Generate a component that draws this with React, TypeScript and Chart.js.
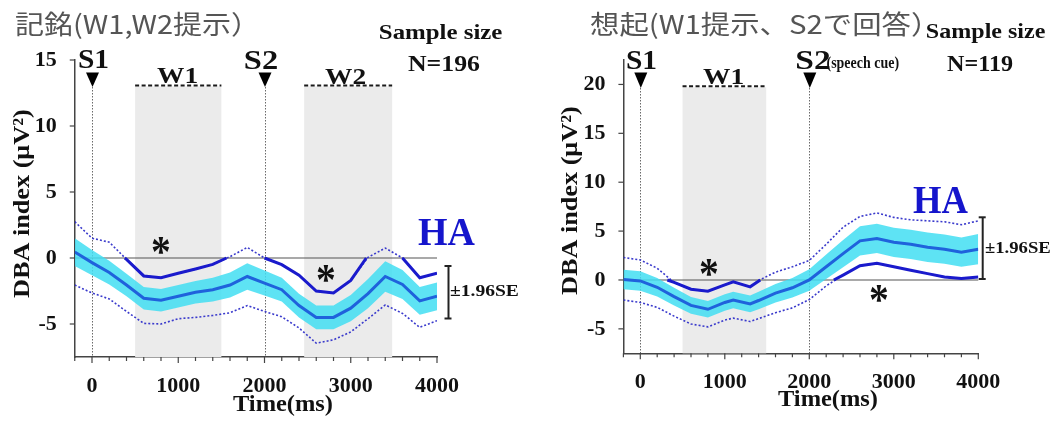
import React, { useEffect, useRef } from "react";
import { Chart, registerables } from "chart.js";
Chart.register(...registerables);

const SERIF = '"Liberation Serif", "Times New Roman", serif';
const CJK = '"Noto Sans CJK JP", "Noto Sans", sans-serif';

// ---------- Panel 1: 記銘 (encoding) ----------
const memTime = [-200, 0, 200, 400, 600, 800, 1000, 1200, 1400, 1600, 1800, 2000, 2200, 2400, 2600, 2800, 3000, 3200, 3400, 3600, 3800, 4000];
const memMean = [0.45, -0.35, -1.1, -2.05, -3.05, -3.2, -2.9, -2.6, -2.4, -2.05, -1.4, -1.9, -2.4, -3.6, -4.5, -4.5, -3.8, -2.7, -1.4, -2.0, -3.25, -2.9];
const memUpper = [2.75, 1.5, 1.2, -0.1, -1.36, -1.5, -1.16, -0.83, -0.48, 0.1, 0.8, 0.0, -0.5, -1.3, -2.5, -2.65, -1.7, 0.05, 0.75, 0.0, -1.5, -1.15];
const memLower = [-2.05, -2.65, -3.1, -4.05, -4.95, -5.0, -4.6, -4.5, -4.35, -4.15, -3.6, -4.05, -4.45, -5.3, -6.45, -6.2, -5.6, -4.6, -3.55, -4.2, -5.25, -4.75];
const memSE = [1.05, 0.95, 0.9, 0.85, 0.85, 0.85, 0.85, 0.85, 0.9, 0.95, 1.0, 0.95, 0.9, 0.9, 0.9, 0.9, 1.0, 1.1, 1.15, 1.1, 1.05, 1.05];
const memSigTime = [380, 400, 600, 800, 1000, 1200, 1400, 1560, 1800, 2000, 2200, 2400, 2600, 2800, 3000, 3180, 3400, 3600, 3800, 4000];
const memSigValue = [0, -0.1, -1.36, -1.5, -1.16, -0.83, -0.48, 0, null, 0, -0.5, -1.3, -2.5, -2.65, -1.7, 0, null, 0, -1.5, -1.15];
const memWindows = [[500, 1500], [2460, 3480]];
const memStimuli = [0, 2000];
const memYTicks = [-5, 0, 5, 10, 15];

// ---------- Panel 2: 想起 (recall) ----------
const recTime = [-200, 0, 200, 400, 600, 800, 1000, 1100, 1300, 1400, 1600, 1800, 2000, 2200, 2400, 2600, 2800, 3000, 3200, 3400, 3600, 3800, 4000];
const recMean = [0.05, -0.1, -0.75, -1.7, -2.6, -3.0, -2.3, -2.05, -2.45, -2.1, -1.35, -0.8, 0.0, 1.35, 2.7, 4.0, 4.25, 3.85, 3.65, 3.35, 3.15, 2.85, 3.15];
const recUpper = [2.3, 2.05, 1.2, -0.25, -0.95, -1.15, -0.5, -0.2, -0.7, -0.05, 0.8, 1.35, 2.0, 3.65, 5.4, 6.5, 6.85, 6.4, 6.15, 6.05, 5.95, 5.65, 6.05];
const recLower = [-2.05, -2.3, -2.8, -3.7, -4.5, -4.8, -4.1, -3.9, -4.25, -3.95, -3.35, -2.85, -2.0, -0.6, 0.5, 1.45, 1.7, 1.35, 1.0, 0.65, 0.3, 0.15, 0.3];
const recSE = [1.0, 1.0, 0.95, 0.9, 0.85, 0.85, 0.85, 0.85, 0.85, 0.9, 0.95, 1.0, 1.1, 1.25, 1.4, 1.5, 1.5, 1.5, 1.5, 1.5, 1.5, 1.5, 1.55];
const recSigTime = [320, 400, 600, 800, 1000, 1100, 1300, 1420, 1800, 2290, 2400, 2600, 2800, 3000, 3200, 3400, 3600, 3800, 4000];
const recSigValue = [0, -0.25, -0.95, -1.15, -0.5, -0.2, -0.7, 0, null, 0, 0.5, 1.45, 1.7, 1.35, 1.0, 0.65, 0.3, 0.15, 0.3];
const recWindows = [[500, 1490]];
const recStimuli = [0, 2000];
const recYTicks = [-5, 0, 5, 10, 15, 20];

const xTickValues = [-200, 0, 200, 400, 600, 800, 1000, 1200, 1400, 1600, 1800, 2000, 2200, 2400, 2600, 2800, 3000, 3200, 3400, 3600, 3800, 4000];

const BAND = "rgba(66, 222, 242, 0.85)";
const MEAN = "#1f62dc";
const SIG = "#1a1acc";
const DOT = "#3a3acc";
const AXIS = "#444";
const HA_BLUE = "#1515cc";

const B = (s: number) => `bold ${s}px ${SERIF}`;

const panels = [
  {
    ox: 0,
    time: memTime, mean: memMean, upper: memUpper, lower: memLower, se: memSE,
    sigTime: memSigTime, sigValue: memSigValue,
    windows: memWindows, windowTop: 13, stimuli: memStimuli, yTicks: memYTicks,
    yMin: -7.5, yMax: 15,
    area: { left: 74.75, right: 437, top: 60, bottom: 357 },
    tri: { top: 72.5, bottom: 87 },
    bracket: { x: 448.5, y0: 266, y1: 318.5 },
    yTitle: { cx: 23, cy: 204, len: 188 },
    texts: [
      { s: "記銘(W1,W2提示）", cx: 127.5, cy: 25, font: `400 26px ${CJK}`, color: "#555", w: 225 },
      { s: "Sample size", cx: 441, cy: 34, font: B(21), w: 122 },
      { s: "N=196", cx: 444, cy: 63.5, font: B(24), w: 72 },
      { s: "S1", cx: 93.5, cy: 58.5, font: B(28), w: 29 },
      { s: "S2", cx: 261, cy: 60, font: B(28), w: 32 },
      { s: "W1", cx: 177, cy: 75.5, font: B(24), w: 40 },
      { s: "W2", cx: 345, cy: 76, font: B(24), w: 40 },
      { s: "HA", cx: 446.5, cy: 231.5, font: B(40), color: HA_BLUE, w: 57 },
      { s: "±1.96SE", cx: 484, cy: 290, font: B(16), w: 68 },
      { s: "*", cx: 161, cy: 245, font: B(44), w: 18 },
      { s: "*", cx: 326, cy: 273, font: B(44), w: 18 },
      { s: "Time(ms)", cx: 282.5, cy: 405, font: B(24), w: 99 },
    ],
  },
  {
    ox: 530,
    time: recTime, mean: recMean, upper: recUpper, lower: recLower, se: recSE,
    sigTime: recSigTime, sigValue: recSigValue,
    windows: recWindows, windowTop: 19.7, stimuli: recStimuli, yTicks: recYTicks,
    yMin: -7.5, yMax: 22.5,
    area: { left: 623.4, right: 978.3, top: 60, bottom: 353.3 },
    tri: { top: 72.5, bottom: 88 },
    bracket: { x: 982.7, y0: 217.3, y1: 279 },
    yTitle: { cx: 571, cy: 201, len: 188 },
    texts: [
      { s: "想起(W1提示、S2で回答）", cx: 755, cy: 25, font: `400 26px ${CJK}`, color: "#555", w: 330 },
      { s: "Sample size", cx: 986, cy: 33, font: B(21), w: 118 },
      { s: "N=119", cx: 980, cy: 63.5, font: B(24), w: 66 },
      { s: "S1", cx: 641.5, cy: 60, font: B(28), w: 29 },
      { s: "W1", cx: 723, cy: 76, font: B(24), w: 40 },
      { s: "S2", cx: 813, cy: 60, font: B(28), w: 33 },
      { s: "(speech cue)", cx: 862.5, cy: 63.5, font: B(17), w: 72 },
      { s: "HA", cx: 940.5, cy: 199.5, font: B(40), color: HA_BLUE, w: 55 },
      { s: "±1.96SE", cx: 1017.5, cy: 247.7, font: B(16), w: 65 },
      { s: "*", cx: 709, cy: 267, font: B(44), w: 18 },
      { s: "*", cx: 879, cy: 293, font: B(44), w: 18 },
      { s: "Time(ms)", cx: 827.5, cy: 400, font: B(24), w: 99 },
    ],
  },
];

function drawText(ctx: CanvasRenderingContext2D, s: string, cx: number, cy: number, font: string, color: string, w?: number) {
  ctx.save();
  ctx.font = font;
  ctx.fillStyle = color;
  ctx.textAlign = "left";
  ctx.textBaseline = "alphabetic";
  const m = ctx.measureText(s);
  const bw = m.actualBoundingBoxLeft + m.actualBoundingBoxRight;
  const sx = w ? w / bw : 1;
  ctx.translate(cx, cy);
  ctx.scale(sx, 1);
  ctx.fillText(s, m.actualBoundingBoxLeft - bw / 2, (m.actualBoundingBoxAscent - m.actualBoundingBoxDescent) / 2);
  ctx.restore();
}

function makePlugin(p: any) {
  const line = (ctx: CanvasRenderingContext2D, x0: number, y0: number, x1: number, y1: number) => {
    ctx.beginPath();
    ctx.moveTo(x0, y0);
    ctx.lineTo(x1, y1);
    ctx.stroke();
  };
  return {
    id: "deco" + p.ox,
    beforeDatasetsDraw(chart: any) {
      const { ctx, chartArea: a, scales } = chart;
      const x = scales.x, y = scales.y;
      ctx.save();
      ctx.fillStyle = "#ebebeb";
      p.windows.forEach(([s, e]: number[]) => {
        const x0 = x.getPixelForValue(s), x1 = x.getPixelForValue(e);
        const y0 = y.getPixelForValue(p.windowTop);
        ctx.fillRect(x0, y0, x1 - x0, a.bottom - y0);
      });
      ctx.strokeStyle = "#6a6a6a";
      ctx.lineWidth = 1;
      ctx.setLineDash([1.5, 1.5]);
      p.stimuli.forEach((t: number) => {
        const px = Math.round(x.getPixelForValue(t)) + 0.5;
        line(ctx, px, p.tri.bottom, px, a.bottom);
      });
      ctx.setLineDash([]);
      ctx.strokeStyle = "#555";
      ctx.lineWidth = 1.2;
      const zy = y.getPixelForValue(0);
      line(ctx, a.left, zy, a.right, zy);
      ctx.restore();
    },
    afterDraw(chart: any) {
      const { ctx, chartArea: a, scales } = chart;
      const x = scales.x, y = scales.y;
      const X = (v: number) => v - p.ox;
      ctx.save();
      // tick marks
      ctx.strokeStyle = AXIS;
      ctx.lineWidth = 1.2;
      x.ticks.forEach((t: any) => {
        const px = x.getPixelForValue(t.value);
        const len = t.value % 1000 === 0 ? 6 : 4;
        line(ctx, px, a.bottom, px, a.bottom + len);
      });
      y.ticks.forEach((t: any) => {
        const py = y.getPixelForValue(t.value);
        line(ctx, a.left - 5, py, a.left, py);
      });
      // window dashed tops
      ctx.strokeStyle = "#1a1a1a";
      ctx.lineWidth = 2;
      ctx.setLineDash([4, 2.5]);
      p.windows.forEach(([s, e]: number[]) => {
        const yy = y.getPixelForValue(p.windowTop) - 1;
        line(ctx, x.getPixelForValue(s), yy, x.getPixelForValue(e), yy);
      });
      ctx.setLineDash([]);
      // stimulus triangles
      ctx.fillStyle = "#000";
      p.stimuli.forEach((t: number) => {
        const px = x.getPixelForValue(t) + 0.5;
        ctx.beginPath();
        ctx.moveTo(px - 6.5, p.tri.top);
        ctx.lineTo(px + 6.5, p.tri.top);
        ctx.lineTo(px, p.tri.bottom);
        ctx.closePath();
        ctx.fill();
      });
      // ±1.96SE bracket
      ctx.strokeStyle = "#222";
      ctx.lineWidth = 2;
      const bx = X(p.bracket.x);
      line(ctx, bx, p.bracket.y0, bx, p.bracket.y1);
      line(ctx, bx - 4, p.bracket.y0, bx + 3, p.bracket.y0);
      line(ctx, bx - 4, p.bracket.y1, bx + 3, p.bracket.y1);
      // texts
      p.texts.forEach((tx: any) => drawText(ctx, tx.s, X(tx.cx), tx.cy, tx.font, tx.color || "#111", tx.w));
      // y-axis title
      ctx.save();
      ctx.translate(X(p.yTitle.cx), p.yTitle.cy);
      ctx.rotate(-Math.PI / 2);
      drawText(ctx, "DBA index (μV²)", 0, 0, B(23), "#111", p.yTitle.len);
      ctx.restore();
      ctx.restore();
    },
  };
}

function makeConfig(p: any): any {
  const pts = (xs: number[], ys: (number | null)[]) => xs.map((v, i) => ({ x: v, y: ys[i] }));
  const bandLo = p.mean.map((m: number, i: number) => m - p.se[i]);
  const bandHi = p.mean.map((m: number, i: number) => m + p.se[i]);
  const tickFont = { family: SERIF, weight: "bold", size: 22 };
  return {
    type: "line",
    data: {
      datasets: [
        { data: pts(p.time, bandLo), borderColor: "rgba(0,0,0,0)", borderWidth: 0, pointRadius: 0, fill: false, order: 6 },
        { data: pts(p.time, bandHi), borderColor: "rgba(0,0,0,0)", borderWidth: 0, pointRadius: 0, fill: "-1", backgroundColor: BAND, order: 5 },
        { data: pts(p.time, p.upper), borderColor: DOT, borderWidth: 1.6, borderDash: [2, 2], pointRadius: 0, fill: false, order: 4 },
        { data: pts(p.time, p.lower), borderColor: DOT, borderWidth: 1.6, borderDash: [2, 2], pointRadius: 0, fill: false, order: 4 },
        { data: pts(p.time, p.mean), borderColor: MEAN, borderWidth: 3, pointRadius: 0, fill: false, order: 2 },
        { data: pts(p.sigTime, p.sigValue), borderColor: SIG, borderWidth: 3, pointRadius: 0, fill: false, spanGaps: false, order: 1 },
      ],
    },
    options: {
      animation: false,
      responsive: false,
      events: [],
      layout: { padding: { left: 0, top: p.area.top, right: 530 - (p.area.right - p.ox), bottom: 0 } },
      plugins: { legend: { display: false }, tooltip: { enabled: false } },
      scales: {
        x: {
          type: "linear",
          min: -200,
          max: 4000,
          grid: { display: false },
          border: { display: true, color: AXIS, width: 1.5 },
          afterBuildTicks: (s: any) => { s.ticks = xTickValues.map((v) => ({ value: v })); },
          ticks: {
            autoSkip: false,
            maxRotation: 0,
            padding: 8,
            color: "#111",
            font: tickFont,
            callback: (v: number) => (v % 1000 === 0 ? String(v) : ""),
          },
          afterFit: (s: any) => { s.height = 424 - p.area.bottom; },
        },
        y: {
          type: "linear",
          min: p.yMin,
          max: p.yMax,
          grid: { display: false },
          border: { display: true, color: AXIS, width: 1.5 },
          afterBuildTicks: (s: any) => { s.ticks = p.yTicks.map((v: number) => ({ value: v })); },
          ticks: {
            autoSkip: false,
            padding: 10,
            color: "#111",
            font: tickFont,
            callback: (v: number) => String(v),
          },
          afterFit: (s: any) => { s.width = p.area.left - p.ox; },
        },
      },
    },
    plugins: [makePlugin(p)],
  };
}

function Panel({ p }: { p: any }) {
  const ref = useRef<HTMLCanvasElement>(null);
  useEffect(() => {
    const chart = new Chart(ref.current as HTMLCanvasElement, makeConfig(p));
    return () => chart.destroy();
  }, [p]);
  return (
    <canvas
      ref={ref}
      width={530}
      height={424}
      style={{ position: "absolute", left: p.ox, top: 0, width: 530, height: 424 }}
    />
  );
}

export default function App() {
  return (
    <div style={{ position: "fixed", left: 0, top: 0, width: 1060, height: 424, background: "#fff", overflow: "hidden" }}>
      {panels.map((p) => (
        <Panel key={p.ox} p={p} />
      ))}
    </div>
  );
}
